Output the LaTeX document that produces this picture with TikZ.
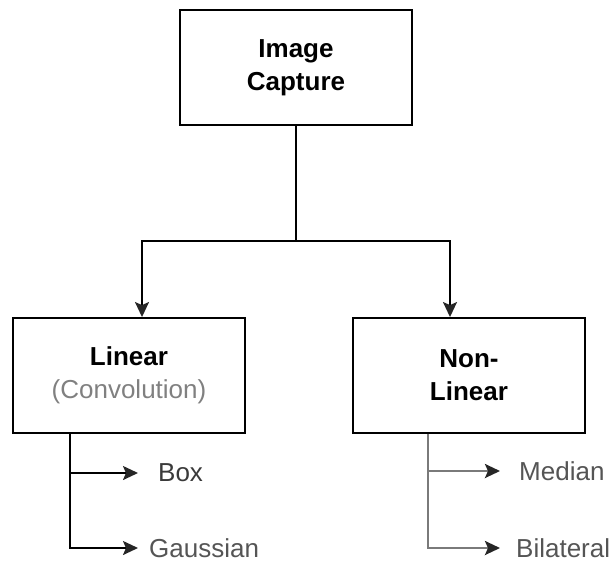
\documentclass[tikz,border=0pt]{standalone}
\usepackage{fontspec}
\setmainfont{Liberation Sans}
\usetikzlibrary{arrows.meta}
\definecolor{graytxt}{HTML}{555555}
\definecolor{darktxt}{HTML}{3A3A3A}
\definecolor{grayline}{HTML}{7A7A7A}
\tikzset{
  boxnode/.style={draw=black, line width=1.9pt, minimum width=232pt, minimum height=115pt, inner sep=0pt, align=center, font=\fontsize{26}{33}\selectfont},
  lbl/.style={anchor=west, inner ysep=2pt, font=\fontsize{26}{33}\selectfont, text=graytxt},
  arr/.style={line width=2pt, -{Stealth[length=15pt,width=14pt,inset=3pt,color=black!85,fill=black!85]}},
}
\begin{document}
\begin{tikzpicture}[x=1pt,y=-1pt]
\useasboundingbox (0,0) rectangle (616,566);
\node[boxnode] (cap) at (296,67.5) {\textbf{Image}\\\textbf{Capture}};
\node[boxnode] (lin) at (129,375.5) {\textbf{Linear}\\\textcolor{gray}{(Convolution)}};
\node[boxnode] (non) at (469,375.5) {\textbf{Non-}\\\textbf{Linear}};
\node[lbl, inner xsep=20pt, text=darktxt] (box) at (138,473) {Box};
\node[lbl, inner xsep=11pt] (gau) at (138,548) {Gaussian};
\node[lbl, inner xsep=19pt] (med) at (500,471) {Median};
\node[lbl, inner xsep=16pt] (bil) at (500,548) {Bilateral};
\coordinate (j) at (296,241);
\draw[line width=2pt] (cap.south) -- (j);
\draw[arr] (j) -| ([xshift=13pt]lin.north);
\draw[arr] (j) -| ([xshift=-19pt]non.north);
\draw[arr] ([xshift=58pt]lin.south west) |- (box.west);
\draw[arr] ([xshift=58pt]lin.south west) |- (gau.west);
\draw[arr, draw=grayline, line width=2.6pt] ([xshift=76pt]non.south west) |- (med.west);
\draw[arr, draw=grayline, line width=2.6pt] ([xshift=76pt]non.south west) |- (bil.west);
\end{tikzpicture}
\end{document}
